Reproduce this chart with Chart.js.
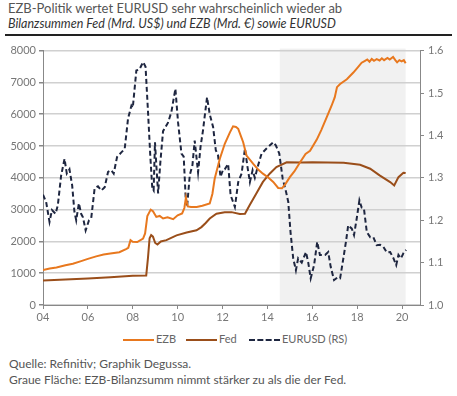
<!DOCTYPE html>
<html>
<head>
<meta charset="utf-8">
<script src="https://cdn.jsdelivr.net/npm/chart.js@4"></script>
<style>
  body { margin: 0; background: #fff; font-family: Lato, "Open Sans", sans-serif; }
  #wrap { position: relative; width: 457px; height: 396px; }
  .t1 { position: absolute; left: 8px; top: 0px; font-size: 13px; color: #555; white-space: nowrap; }
  .t2 { position: absolute; left: 8px; top: 16px; font-size: 12.5px; color: #333; font-style: italic; white-space: nowrap; }
  .rule { position: absolute; left: 5px; top: 34px; width: 447px; height: 1.5px; background: #222; }
  #box { position: absolute; left: 0; top: 40px; width: 457px; height: 285px; }
  .legend { position: absolute; top: 332px; left: 0; width: 457px; font-size: 11px; color: #666; }
  .item { position: absolute; top: 0; white-space: nowrap; }
  .item span.ln { position: absolute; top: 7px; width: 31px; height: 0; border-top: 2.5px solid; }
  .item span.tx { position: absolute; left: 33px; top: 0; }
  .foot { position: absolute; left: 9px; font-size: 12px; color: #555; white-space: nowrap; }
</style>
</head>
<body>
<div id="wrap">
  <div class="t1">EZB-Politik wertet EURUSD sehr wahrscheinlich wieder ab</div>
  <div class="t2">Bilanzsummen Fed (Mrd. US$) und EZB (Mrd. €) sowie EURUSD</div>
  <div class="rule"></div>
  <div id="box"><canvas id="chart"></canvas></div>
  <div class="legend">
    <div class="item" style="left:123px"><span class="ln" style="border-color:#e8781e"></span><span class="tx">EZB</span></div>
    <div class="item" style="left:186px"><span class="ln" style="border-color:#9a4e1a"></span><span class="tx">Fed</span></div>
    <div class="item" style="left:249px"><span class="ln" style="border-color:#1e2640;border-top-style:dashed"></span><span class="tx">EURUSD (RS)</span></div>
  </div>
  <div class="foot" style="top:356px">Quelle: Refinitiv; Graphik Degussa.</div>
  <div class="foot" style="top:372px">Graue Fläche: EZB-Bilanzsumm nimmt stärker zu als die der Fed.</div>
</div>
<script>
var ezbYears = [2004.0, 2004.3, 2004.6, 2005.0, 2005.33, 2005.7, 2006.0, 2006.37, 2006.7, 2007.0,
                2007.4, 2007.7, 2007.8, 2007.9, 2008.0, 2008.2, 2008.46, 2008.55, 2008.65, 2008.8,
                2008.9, 2009.05, 2009.2, 2009.35, 2009.55, 2009.8, 2010.0, 2010.2, 2010.3, 2010.37,
                2010.45, 2010.6, 2010.85, 2011.1, 2011.43, 2011.55, 2011.65, 2011.88, 2012.1, 2012.33,
                2012.47, 2012.6, 2012.7, 2012.92, 2013.07, 2013.37, 2013.6, 2013.8, 2014.05, 2014.26,
                2014.48, 2014.65, 2014.8, 2015.0, 2015.2, 2015.45, 2015.7, 2015.9, 2016.2, 2016.4,
                2016.64, 2016.85, 2017.0, 2017.1, 2017.24, 2017.54, 2017.83, 2018.0, 2018.2, 2018.35,
                2018.45, 2018.55, 2018.65, 2018.75, 2018.87, 2019.0, 2019.1, 2019.2, 2019.35, 2019.45,
                2019.6, 2019.7, 2019.78, 2019.88, 2019.98, 2020.08, 2020.16];
var ezbValues = [1100, 1150, 1180, 1250, 1300, 1380, 1450, 1530, 1590, 1620,
                 1660, 1760, 1800, 2040, 1990, 1980, 2090, 2250, 2800, 3000,
                 2950, 2770, 2800, 2720, 2760, 2700, 2820, 2880, 3050, 3380,
                 3100, 3080, 3080, 3120, 3190, 3500, 3970, 4600, 5070, 5430,
                 5620, 5600, 5540, 5120, 4700, 4440, 4250, 4130, 4000, 3870,
                 3680, 3670, 3800, 4020, 4200, 4480, 4750, 4850, 5200, 5500,
                 5900, 6250, 6530, 6850, 6950, 7100, 7310, 7450, 7620, 7680,
                 7720, 7650, 7740, 7680, 7730, 7690, 7760, 7700, 7770, 7720,
                 7800, 7700, 7630, 7700, 7660, 7700, 7600];

var fedYears = [2004.0, 2005.0, 2006.0, 2007.0, 2008.0, 2008.6, 2008.68, 2008.75, 2008.82, 2008.9,
                2009.0, 2009.1, 2009.25, 2009.5, 2009.95, 2010.4, 2010.84, 2011.06, 2011.25, 2011.43,
                2011.73, 2012.1, 2012.4, 2012.77, 2013.0, 2013.2, 2013.5, 2013.8, 2014.1, 2014.4,
                2014.86, 2015.5, 2016.0, 2017.4, 2018.13, 2018.58, 2019.0, 2019.47, 2019.65, 2019.84,
                2020.06, 2020.16];
var fedValues = [770, 800, 830, 870, 920, 930, 1500, 2100, 2200, 2150,
                 1950, 1900, 2000, 2040, 2190, 2280, 2350, 2450, 2580, 2720,
                 2870, 2920, 2920, 2860, 2870, 3130, 3500, 3870, 4130, 4340,
                 4490, 4480, 4490, 4470, 4410, 4285, 4075, 3865, 3760, 4020,
                 4160, 4150];

var fxYears = [2004.0, 2004.14, 2004.29, 2004.4, 2004.56, 2004.66, 2004.81, 2004.96, 2005.06, 2005.18,
               2005.3, 2005.4, 2005.48, 2005.6, 2005.7, 2005.78, 2005.9, 2006.05, 2006.15, 2006.3,
               2006.45, 2006.6, 2006.75, 2006.9, 2007.04, 2007.15, 2007.3, 2007.49, 2007.64, 2007.79,
               2007.94, 2008.0, 2008.16, 2008.3, 2008.46, 2008.57, 2008.68, 2008.78, 2008.87, 2008.93,
               2008.99, 2009.05, 2009.13, 2009.23, 2009.35, 2009.57, 2009.72, 2009.9, 2010.02, 2010.17,
               2010.27, 2010.36, 2010.42, 2010.54, 2010.66, 2010.76, 2010.91, 2011.02, 2011.13, 2011.31,
               2011.43, 2011.58, 2011.7, 2011.8, 2011.91, 2012.03, 2012.1, 2012.25, 2012.36, 2012.47,
               2012.55, 2012.7, 2012.85, 2013.0, 2013.1, 2013.22, 2013.34, 2013.44, 2013.59, 2013.74,
               2013.96, 2014.1, 2014.26, 2014.38, 2014.53, 2014.68, 2014.83, 2014.93, 2015.03, 2015.15,
               2015.27, 2015.37, 2015.53, 2015.72, 2015.82, 2015.93, 2016.08, 2016.22, 2016.34, 2016.57,
               2016.71, 2016.82, 2016.97, 2017.12, 2017.24, 2017.36, 2017.5, 2017.6, 2017.76, 2017.86,
               2017.98, 2018.1, 2018.2, 2018.3, 2018.43, 2018.58, 2018.72, 2018.87, 2019.02, 2019.17,
               2019.32, 2019.47, 2019.62, 2019.74, 2019.84, 2019.95, 2020.06, 2020.18];
var fxValues = [1.26, 1.243, 1.196, 1.224, 1.215, 1.235, 1.306, 1.345, 1.31, 1.32,
                1.282, 1.22, 1.2, 1.24, 1.215, 1.207, 1.176, 1.2, 1.205, 1.275,
                1.28, 1.27, 1.278, 1.314, 1.318, 1.31, 1.349, 1.36, 1.368, 1.44,
                1.47, 1.465, 1.553, 1.556, 1.573, 1.562, 1.455, 1.353, 1.275, 1.27,
                1.384, 1.33, 1.263, 1.337, 1.41, 1.43, 1.455, 1.51, 1.43, 1.357,
                1.35, 1.251, 1.231, 1.306, 1.33, 1.388, 1.313, 1.373, 1.412, 1.49,
                1.45, 1.42, 1.365, 1.353, 1.302, 1.32, 1.32, 1.333, 1.259, 1.243,
                1.231, 1.29, 1.31, 1.369, 1.33, 1.29, 1.318, 1.3, 1.33, 1.357,
                1.369, 1.376, 1.384, 1.376, 1.357, 1.298, 1.267, 1.243, 1.172, 1.11,
                1.082, 1.11, 1.1, 1.125, 1.1, 1.063, 1.094, 1.149, 1.118, 1.118,
                1.125, 1.09, 1.059, 1.065, 1.063, 1.102, 1.149, 1.188, 1.18, 1.165,
                1.204, 1.247, 1.23, 1.228, 1.172, 1.16, 1.16, 1.141, 1.142, 1.137,
                1.124, 1.125, 1.11, 1.094, 1.118, 1.11, 1.122, 1.13];

var xTicks = [2004, 2006, 2008, 2010, 2012, 2014, 2016, 2018, 2020];
var grayRange = [2014.55, 2020.16];

function points(xs, ys) {
    return xs.map(function (x, i) { return {x: x, y: ys[i]}; });
}

var grayArea = {
    id: 'grayArea',
    beforeDraw: function (chart) {
        var ctx = chart.ctx, a = chart.chartArea, xs = chart.scales.x;
        var x1 = xs.getPixelForValue(grayRange[0]);
        var x2 = xs.getPixelForValue(grayRange[1]);
        ctx.save();
        ctx.fillStyle = '#f1f1f1';
        ctx.fillRect(x1, a.top - 2, x2 - x1, a.bottom - a.top + 2);
        ctx.restore();
    }
};

var tickFont = {family: 'Lato, "Open Sans", sans-serif', size: 11};

new Chart(document.getElementById('chart').getContext('2d'), {
    type: 'line',
    data: {
        datasets: [
            {label: 'EZB', data: points(ezbYears, ezbValues), yAxisID: 'y',
             borderColor: '#e8781e', borderWidth: 2, pointRadius: 0, tension: 0},
            {label: 'Fed', data: points(fedYears, fedValues), yAxisID: 'y',
             borderColor: '#9a4e1a', borderWidth: 2, pointRadius: 0, tension: 0},
            {label: 'EURUSD (RS)', data: points(fxYears, fxValues), yAxisID: 'y1',
             borderColor: '#1e2640', borderWidth: 2, borderDash: [5, 3], pointRadius: 0, tension: 0}
        ]
    },
    options: {
        responsive: true,
        maintainAspectRatio: false,
        animation: false,
        layout: {padding: {top: 10, left: 0, right: 0, bottom: 0}},
        plugins: {legend: {display: false}, tooltip: {enabled: false}},
        scales: {
            x: {
                type: 'linear', min: 2004, max: 2020.8,
                afterBuildTicks: function (s) { s.ticks = xTicks.map(function (v) { return {value: v}; }); },
                afterFit: function (s) { s.height = 20; },
                ticks: {color: '#777', font: tickFont, padding: 2, maxRotation: 0,
                        callback: function (v) { return String(v).slice(2); }},
                grid: {drawOnChartArea: false, tickLength: 4, tickColor: '#888'},
                border: {color: '#888', width: 1}
            },
            y: {
                position: 'left', min: 0, max: 8000,
                afterFit: function (s) { s.width = 43; },
                ticks: {stepSize: 1000, color: '#777', font: tickFont, padding: 3,
                        callback: function (v) { return String(v); }},
                grid: {color: '#d0d0d0', lineWidth: 1.5, tickLength: 4, tickColor: '#888'},
                border: {color: '#888', width: 1}
            },
            y1: {
                position: 'right', min: 1.0, max: 1.6,
                afterFit: function (s) { s.width = 37; },
                ticks: {stepSize: 0.1, color: '#777', font: tickFont, padding: 4,
                        callback: function (v) { return v.toFixed(1); }},
                grid: {drawOnChartArea: false, tickLength: 4, tickColor: '#888'},
                border: {color: '#888', width: 1}
            }
        }
    },
    plugins: [grayArea]
});
</script>
</body>
</html>
